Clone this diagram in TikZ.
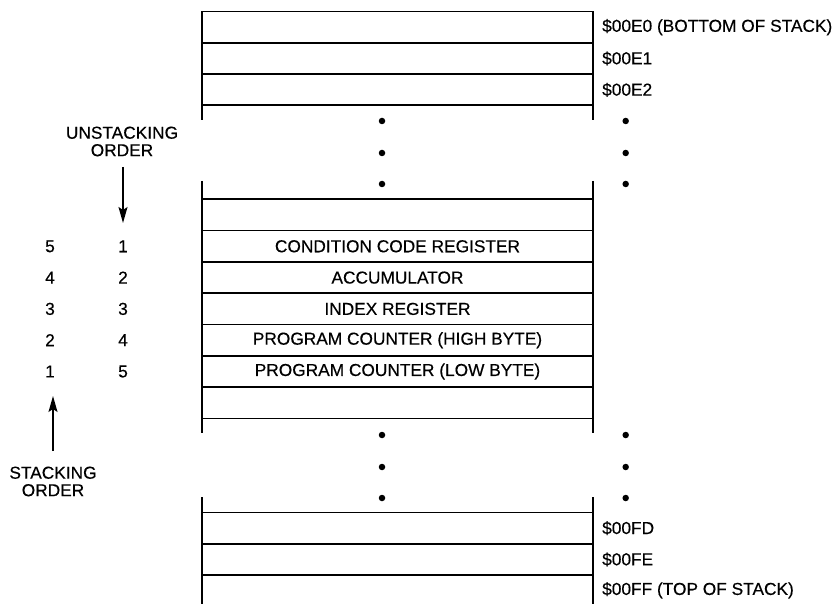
\documentclass[tikz,border=0pt]{standalone}
\usepackage{fontspec}
\setmainfont{Liberation Sans}[FakeBold=0.35]
\usetikzlibrary{arrows.meta}
\tikzset{
  lbl/.style={inner sep=0pt, font=\fontsize{17.3}{17.5}\selectfont},
  addr/.style={lbl, anchor=west},
  frame/.style={line width=1.8pt},
  dotmark/.style={fill=black, circle, inner sep=0pt, minimum size=6.5pt},
  ordarrow/.style={line width=1.6pt, -{Stealth[length=16pt,width=9pt,inset=3pt]}}
}
\begin{document}
\begin{tikzpicture}[x=1pt,y=-1pt]
\useasboundingbox (0,0) rectangle (836,604);
% horizontal lines
\foreach \yy in {11.5,42.8,74.1,105.4,199.3,230.6,261.9,293.2,324.5,355.8,387.1,418.4,512.5,543.8,575.1}
  \draw[frame] (202,\yy) -- (593,\yy);
% vertical lines
\foreach \xx in {202,593}{
  \draw[frame] (\xx,11.5) -- (\xx,120);
  \draw[frame] (\xx,181) -- (\xx,433);
  \draw[frame] (\xx,497) -- (\xx,604);
}
% dots
\foreach \yy [count=\i] in {121,153,184,435,467,498}{
  \node[dotmark] (dl\i) at (382,\yy) {};
  \node[dotmark] (dr\i) at (625.7,\yy) {};
}
% register texts
\node[lbl] (ccr) at (397.5,246.3) {CONDITION CODE REGISTER};
\node[lbl] (acc) at (397.5,277.6) {ACCUMULATOR};
\node[lbl] (ix) at (397.5,308.9) {INDEX REGISTER};
\node[lbl] (pch) at (397.5,340.2) {PROGRAM COUNTER (HIGH BYTE)};
\node[lbl] (pcl) at (397.5,371.5) {PROGRAM COUNTER (LOW BYTE)};
% addresses
\node[addr] (a0) at (602,27.2) {\$00E0 (BOTTOM OF STACK)};
\node[addr] (a1) at (602,58.5) {\$00E1};
\node[addr] (a2) at (602,89.8) {\$00E2};
\node[addr] (a3) at (602,528.2) {\$00FD};
\node[addr] (a4) at (602,559.5) {\$00FE};
\node[addr] (a5) at (602,590.3) {\$00FF (TOP OF STACK)};
% order numbers
\foreach \s/\u [count=\i] in {5/1,4/2,3/3,2/4,1/5}{
  \node[lbl] (s\i) at (50,246.3+31.3*\i-31.3) {\s};
  \node[lbl] (u\i) at (123,246.3+31.3*\i-31.3) {\u};
}
% unstacking
\node[lbl, align=center] (unst) at (122,141.5) {UNSTACKING\\ORDER};
\coordinate (uA) at (123,167);
\coordinate (uB) at (123,223);
\draw[ordarrow] (uA) -- (uB);
% stacking
\node[lbl, align=center] (stk) at (53,481.5) {STACKING\\ORDER};
\coordinate (sA) at (53,451);
\coordinate (sB) at (53,396);
\draw[ordarrow] (sA) -- (sB);
\end{tikzpicture}
\end{document}
